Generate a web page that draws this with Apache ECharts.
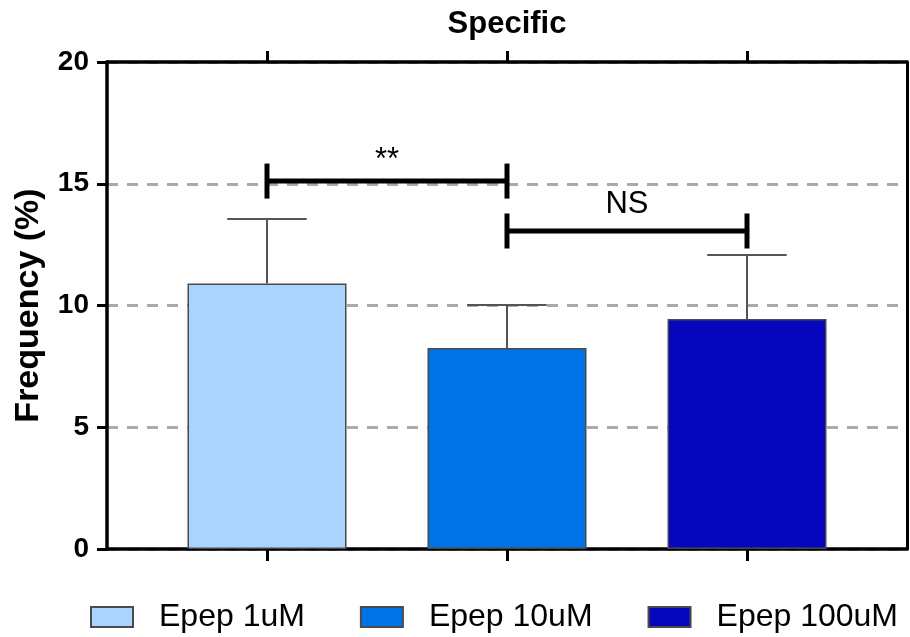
<!DOCTYPE html>
<html>
<head>
<meta charset="utf-8">
<script src="https://cdn.jsdelivr.net/npm/echarts@6/dist/echarts.min.js"></script>
<style>html,body{margin:0;padding:0;background:#fff;}#c{width:910px;height:637px;}</style>
</head>
<body>
<div id="c"></div>
<script>
// ---- data ----
const categories = ['Epep 1uM', 'Epep 10uM', 'Epep 100uM'];
const categoryPositions = [1, 2, 3];
const means = [10.9, 8.25, 9.45];
const errorUpper = [13.55, 10.02, 12.07];
const yTicks = [0, 5, 10, 15, 20];
const bracketFrom = [1, 2];
const bracketTo = [2, 3];
const bracketY = [15.11, 13.06];
const bracketLabels = ['**', 'NS'];

// ---- styles ----
const colors = ['#aad4fe', '#0073e6', '#0606bd'];
const FONT = '"Liberation Sans", Arial, Helvetica, sans-serif';
const BAR_W = 159;

const chart = echarts.init(document.getElementById('c'), null, {renderer: 'canvas'});

const barSeries = categories.map((name, i) => ({
  name: name,
  type: 'bar',
  data: [[categoryPositions[i], means[i]]],
  barWidth: BAR_W,
  barGap: '-100%',
  itemStyle: {color: colors[i], borderColor: '#4a4a4a', borderWidth: 1.5},
  z: 2
}));

const errorData = categoryPositions.map((x, i) => [x, errorUpper[i], means[i]]);
const bracketData = bracketFrom.map((f, i) => [f, bracketTo[i], bracketY[i]]);

const option = {
  animation: false,
  backgroundColor: '#fff',
  grid: {left: 107, right: 3, top: 62, bottom: 88, containLabel: false, outerBoundsMode: 'none'},
  legend: {
    left: 85, top: 596,
    itemWidth: 42, itemHeight: 20, itemGap: 55,
    icon: 'rect',
    textStyle: {fontFamily: FONT, fontSize: 32, color: '#000', padding: [0, 0, 0, 21]},
    data: categories
  },
  xAxis: [
    {
      type: 'value', position: 'bottom', min: 1/3, max: 11/3,
      axisLine: {show: true, onZero: false, lineStyle: {color: '#000', width: 3.5}},
      axisTick: {show: true, length: 12, lineStyle: {color: '#000', width: 3}, customValues: categoryPositions},
      axisLabel: {show: false, customValues: categoryPositions},
      splitLine: {show: false}
    },
    {
      type: 'value', position: 'top', min: 1/3, max: 11/3,
      name: 'Specific', nameLocation: 'middle', nameGap: 22,
      nameTextStyle: {fontFamily: FONT, fontSize: 31, fontWeight: 'bold', color: '#000'},
      axisLine: {show: true, onZero: false, lineStyle: {color: '#000', width: 3.5}},
      axisTick: {show: true, length: 11, lineStyle: {color: '#000', width: 3}, customValues: categoryPositions},
      axisLabel: {show: false, customValues: categoryPositions},
      splitLine: {show: false}
    }
  ],
  yAxis: [
    {
      type: 'value', position: 'left', min: 0, max: 20, interval: 5,
      name: 'Frequency (%)', nameLocation: 'middle', nameGap: 61, nameRotate: 90,
      nameTextStyle: {fontFamily: FONT, fontSize: 34, fontWeight: 'bold', color: '#000'},
      axisLine: {show: true, onZero: false, lineStyle: {color: '#000', width: 3.5}},
      axisTick: {show: true, length: 10, lineStyle: {color: '#000', width: 3}},
      axisLabel: {
        show: true, margin: 18, fontFamily: FONT, fontSize: 28, fontWeight: 'bold', color: '#000',
        formatter: v => (yTicks.indexOf(v) >= 0 ? String(v) : '')
      },
      splitLine: {show: true, lineStyle: {color: '#aaaaaa', width: 3, type: [11, 9]}}
    },
    {
      type: 'value', position: 'right', min: 0, max: 20, interval: 5,
      axisLine: {show: true, onZero: false, lineStyle: {color: '#000', width: 3}},
      axisTick: {show: false}, axisLabel: {show: false}, splitLine: {show: false}
    }
  ],
  series: barSeries.concat([
    {
      type: 'custom',
      name: 'error',
      z: 3,
      data: errorData,
      encode: {x: 0, y: [1, 2]},
      renderItem: function (params, api) {
        const top = api.coord([api.value(0), api.value(1)]);
        const base = api.coord([api.value(0), api.value(2)]);
        const half = BAR_W / 4;
        const st = {stroke: '#555', lineWidth: 2};
        return {
          type: 'group',
          children: [
            {type: 'line', shape: {x1: top[0], y1: base[1], x2: top[0], y2: top[1]}, style: st},
            {type: 'line', shape: {x1: top[0] - half, y1: top[1], x2: top[0] + half, y2: top[1]}, style: st}
          ]
        };
      }
    },
    {
      type: 'custom',
      name: 'brackets',
      z: 4,
      data: bracketData,
      encode: {x: [0, 1], y: 2},
      renderItem: function (params, api) {
        const a = api.coord([api.value(0), api.value(2)]);
        const b = api.coord([api.value(1), api.value(2)]);
        const h = 17.5;
        const st = {stroke: '#000', lineWidth: 5};
        const label = bracketLabels[params.dataIndex];
        const isStar = label.indexOf('*') >= 0;
        return {
          type: 'group',
          children: [
            {type: 'line', shape: {x1: a[0], y1: a[1], x2: b[0], y2: b[1]}, style: st},
            {type: 'line', shape: {x1: a[0], y1: a[1] - h, x2: a[0], y2: a[1] + h}, style: st},
            {type: 'line', shape: {x1: b[0], y1: b[1] - h, x2: b[0], y2: b[1] + h}, style: st},
            {type: 'text', x: (a[0] + b[0]) / 2, y: a[1] - (isStar ? 21 : 27),
             style: {text: label, font: '31px ' + FONT, fill: '#000', align: 'center', verticalAlign: 'middle'}}
          ]
        };
      }
    }
  ])
};
chart.setOption(option);
</script>
</body>
</html>
